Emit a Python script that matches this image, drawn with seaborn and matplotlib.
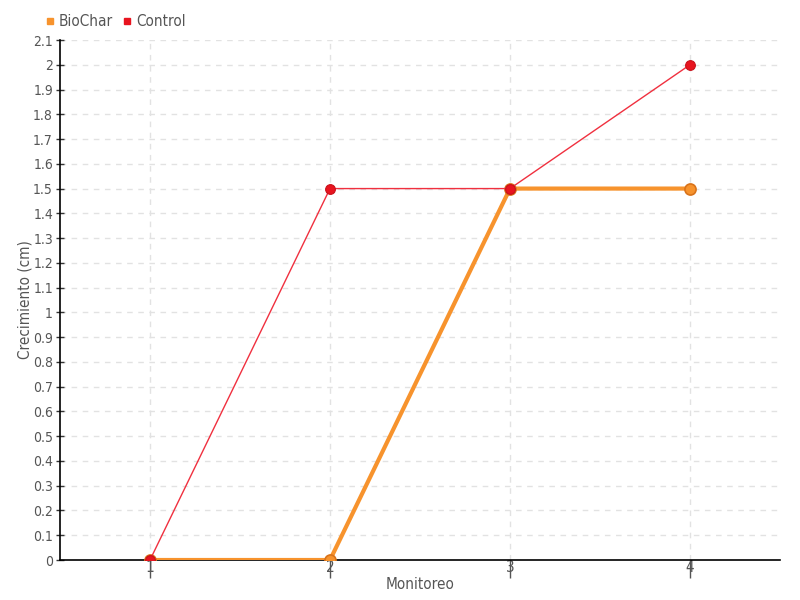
import matplotlib
matplotlib.use("Agg")
import matplotlib.pyplot as plt
import numpy as np
import pandas as pd
import seaborn as sns
from matplotlib.lines import Line2D

# datos
monitoreo = [1, 2, 3, 4]
biochar = [0, 0, 1.5, 1.5]
control = [0, 1.5, 1.5, 2]
y_ticks = np.round(np.arange(0, 2.11, 0.1), 1)

sns.set_style("white")
plt.rcParams["font.family"] = ["DejaVu Sans"]
plt.rcParams["font.stretch"] = "condensed"

df = pd.DataFrame({
    "Monitoreo": monitoreo * 2,
    "Crecimiento": biochar + control,
    "Serie": ["BioChar"] * 4 + ["Control"] * 4,
})

fig = plt.figure(figsize=(8, 6), dpi=100)
ax = fig.add_axes([60 / 800, 40 / 600, 720 / 800, 520 / 600])

sns.lineplot(data=df[df.Serie == "BioChar"], x="Monitoreo", y="Crecimiento",
             ax=ax, color="#f7932d", linewidth=3, marker="o", markersize=8,
             markeredgecolor="#d9731a", markeredgewidth=1.2, zorder=3)
sns.lineplot(data=df[df.Serie == "Control"], x="Monitoreo", y="Crecimiento",
             ax=ax, color="#f0303f", linewidth=1, marker="o", markersize=7,
             markerfacecolor="#e8141f", markeredgecolor="#c8101a",
             markeredgewidth=0.8, zorder=4)

ax.set_xlim(0.5, 4.5)
ax.set_ylim(0, 2.1)
ax.set_xticks(monitoreo)
ax.set_xticklabels([str(m) for m in monitoreo])
ax.set_yticks(y_ticks)
ax.set_yticklabels([f"{v:g}" for v in y_ticks])

ax.grid(True, color="#e2e2e2", linestyle=(0, (4, 4)), linewidth=1)
ax.set_axisbelow(True)
for s in ["top", "right"]:
    ax.spines[s].set_visible(False)
for s in ["left", "bottom"]:
    ax.spines[s].set_color("black")
    ax.spines[s].set_linewidth(1.2)

ax.tick_params(axis="y", direction="inout", length=6, width=1, color="#333333",
               labelsize=10, labelcolor="#555555", pad=2, left=True)
ax.tick_params(axis="x", direction="out", length=13, width=1, color="#555555",
               labelsize=11, labelcolor="#555555", pad=-13, bottom=True)

ax.set_xlabel("Monitoreo", fontsize=11, color="#555555", labelpad=-1)
ax.set_ylabel("Crecimiento (cm)", fontsize=11, color="#555555")
ax.yaxis.set_label_coords(-0.038, 0.5)

# leyenda
handles = [
    Line2D([], [], linestyle="none", marker="s", markersize=5, color="#f7932d"),
    Line2D([], [], linestyle="none", marker="s", markersize=5, color="#e8141f"),
]
fig.legend(handles, ["BioChar", "Control"], loc="upper left",
           bbox_to_anchor=(45 / 800, 1 - 14 / 600), ncol=2, frameon=False,
           handlelength=0.6, handletextpad=0.3, columnspacing=0.6,
           fontsize=11, labelcolor="#555555", borderaxespad=0, borderpad=0)

fig.savefig("out.png", dpi=100)
